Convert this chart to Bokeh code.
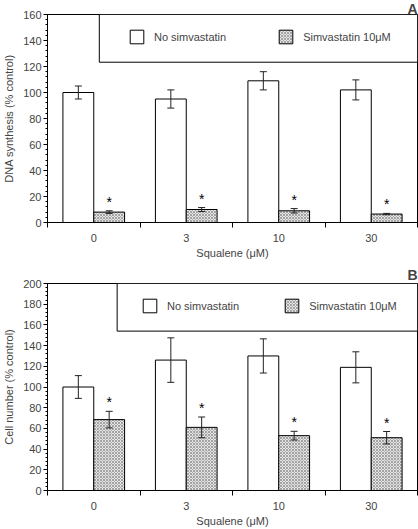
from bokeh.plotting import figure
from bokeh.models import (Range1d, SingleIntervalTicker, FixedTicker, Whisker, ColumnDataSource,
                          BoxAnnotation, Legend, LegendItem)
from bokeh.layouts import column
from bokeh.embed import file_html
from bokeh.resources import INLINE
from bokeh.core.properties import value

# ---- data ----
concentrations = ["0", "3", "10", "30"]

dna_no_simva = [100, 95, 109, 102]
dna_no_simva_err = [5, 7, 7, 7.7]
dna_simva = [8, 10, 9, 6.5]
dna_simva_err = [1, 1.5, 1.7, 0.5]

cell_no_simva = [100, 126, 130, 119]
cell_no_simva_err = [11, 21.5, 16.5, 15]
cell_simva = [68.5, 61, 53, 51]
cell_simva_err = [8, 10, 4.2, 6]

legend_labels = ["No simvastatin", "Simvastatin 10\u03bcM"]

FONT = "Liberation Sans"
WIDTH = 418


def make_panel(tag, ylabel, ymax, no_vals, no_err, s_vals, s_err,
               height, border_top, border_bottom, frame_h, title_standoff,
               box_left, box_bottom, leg_loc, leg_spacing):
    n = len(concentrations)
    centers = [i + 0.5 for i in range(n)]
    p = figure(width=WIDTH, height=height,
               x_range=Range1d(0, n), y_range=Range1d(0, ymax),
               output_backend="svg", toolbar_location=None,
               min_border_left=45, min_border_right=1,
               min_border_top=border_top, min_border_bottom=border_bottom)
    p.xgrid.visible = False
    p.ygrid.visible = False
    p.outline_line_color = "black"
    p.outline_line_width = 1
    p.background_fill_color = "white"
    p.border_fill_color = "white"

    # panel tag as a right-aligned title
    p.title.text = tag
    p.title.align = "right"
    p.title.text_font = FONT
    p.title.text_font_style = "bold"
    p.title.text_font_size = "14px"
    p.title.standoff = title_standoff
    p.title.offset = 0

    px = ymax / frame_h  # data units per pixel

    x_no = [c - 1 / 6 for c in centers]
    x_s = [c + 1 / 6 for c in centers]

    r_no = p.vbar(x=x_no, top=no_vals, width=1 / 3, bottom=0,
                  fill_color="white", line_color="black", line_width=1)
    r_s = p.vbar(x=x_s, top=s_vals, width=1 / 3, bottom=0,
                 fill_color="#e4e4e4", line_color="black", line_width=1,
                 hatch_pattern="diagonal_cross", hatch_scale=3,
                 hatch_color="#a3a3a3", hatch_weight=1)

    src = ColumnDataSource(dict(
        x=x_no + x_s,
        upper=[v + e for v, e in zip(no_vals, no_err)] + [v + e for v, e in zip(s_vals, s_err)],
        lower=[v - e for v, e in zip(no_vals, no_err)] + [v - e for v, e in zip(s_vals, s_err)],
    ))
    w = Whisker(source=src, base="x", upper="upper", lower="lower",
                line_color="#222222", line_width=1, level="overlay")
    w.upper_head.size = 7
    w.lower_head.size = 7
    w.upper_head.line_color = "#222222"
    w.lower_head.line_color = "#222222"
    p.add_layout(w)

    # significance stars above the treated bars
    star_y = [v + e + 9 * px for v, e in zip(s_vals, s_err)]
    p.text(x=x_s, y=star_y, text=["*"] * n, text_align="center",
           text_baseline="middle", text_font=value(FONT),
           text_font_size="14px", text_color="black")

    # legend box
    box = BoxAnnotation(left=box_left, bottom=box_bottom,
                        fill_color="white", fill_alpha=1,
                        line_color="black", line_width=1, line_alpha=1)
    p.add_layout(box)
    legend = Legend(items=[LegendItem(label=legend_labels[0], renderers=[r_no]),
                           LegendItem(label=legend_labels[1], renderers=[r_s])],
                    orientation="horizontal", location=leg_loc,
                    padding=0, margin=0, spacing=leg_spacing,
                    glyph_width=17, glyph_height=17, label_height=17,
                    label_standoff=9,
                    label_text_font=FONT, label_text_font_size="11px",
                    border_line_alpha=0, background_fill_alpha=0)
    p.add_layout(legend, "center")

    # y axis
    p.yaxis.ticker = SingleIntervalTicker(interval=20, num_minor_ticks=5)
    p.yaxis.axis_label = ylabel
    p.yaxis.axis_label_text_font = FONT
    p.yaxis.axis_label_text_font_size = "11px"
    p.yaxis.axis_label_text_font_style = "normal"
    p.yaxis.axis_label_standoff = 5
    p.yaxis.major_label_text_font = FONT
    p.yaxis.major_label_text_font_size = "11px"
    p.yaxis.major_label_standoff = 2
    p.yaxis.major_tick_out = 4
    p.yaxis.major_tick_in = 0
    p.yaxis.minor_tick_out = 2
    p.yaxis.minor_tick_in = 0
    p.yaxis.axis_line_color = "black"

    # x axis: labels at group centres, ticks at group boundaries
    p.xaxis.ticker = FixedTicker(ticks=centers, minor_ticks=list(range(n + 1)))
    p.xaxis.major_label_overrides = {c: lab for c, lab in zip(centers, concentrations)}
    p.xaxis.axis_label = "Squalene (\u03bcM)"
    p.xaxis.axis_label_text_font = FONT
    p.xaxis.axis_label_text_font_size = "11px"
    p.xaxis.axis_label_text_font_style = "normal"
    p.xaxis.axis_label_standoff = 2
    p.xaxis.major_label_text_font = FONT
    p.xaxis.major_label_text_font_size = "11px"
    p.xaxis.major_label_standoff = 6
    p.xaxis.major_tick_out = 0
    p.xaxis.major_tick_in = 0
    p.xaxis.minor_tick_out = 5
    p.xaxis.minor_tick_in = 0
    p.xaxis.axis_line_color = "black"
    return p


pA = make_panel("A", "DNA synthesis (% control)", 160,
                dna_no_simva, dna_no_simva_err, dna_simva, dna_simva_err,
                height=262, border_top=0, border_bottom=40, frame_h=209,
                title_standoff=-4,
                box_left=0.56, box_bottom=123.3,
                leg_loc=(81, 177), leg_spacing=51)
pB = make_panel("B", "Cell number (% control)", 200,
                cell_no_simva, cell_no_simva_err, cell_simva, cell_simva_err,
                height=267, border_top=21, border_bottom=37, frame_h=209,
                title_standoff=1,
                box_left=0.753, box_bottom=154,
                leg_loc=(94, 176), leg_spacing=44)

layout = column(pA, pB, spacing=0)
open("out.html", "w").write(file_html(layout, INLINE))
